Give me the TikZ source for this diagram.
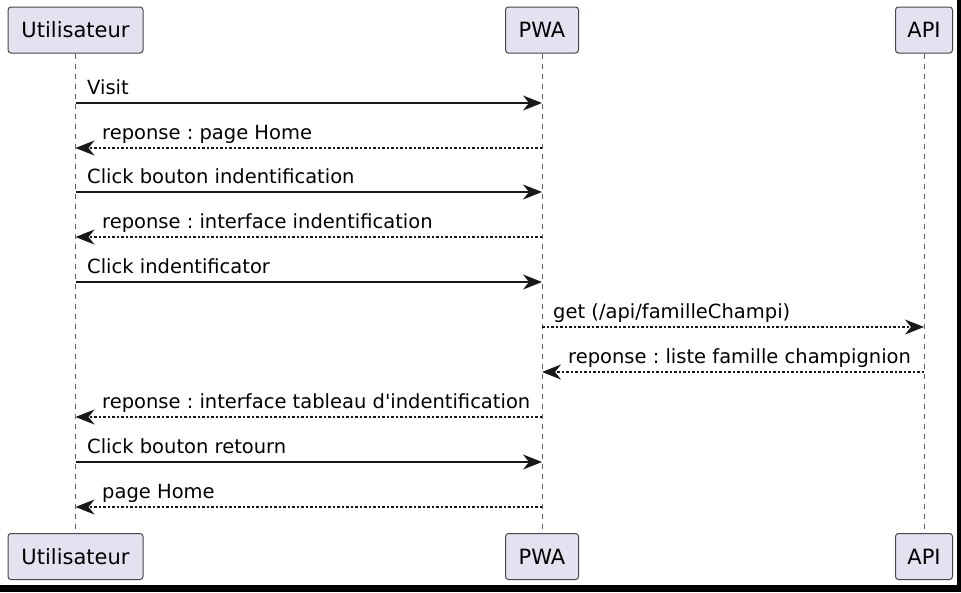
\documentclass[tikz,border=0pt]{standalone}
\usepackage{fontspec}
\setmainfont{DejaVu Sans}[Ligatures=TeXOff]
\usetikzlibrary{arrows.meta}
\definecolor{partfill}{HTML}{E2E2F0}
\definecolor{ink}{HTML}{181818}
\frenchspacing
\begin{document}
\begin{tikzpicture}[x=1pt,y=-1pt,
  part/.style={draw=ink!80, line width=1pt, fill=partfill, rounded corners=3pt, minimum height=46pt, inner sep=0pt, text=black, font=\fontsize{21}{25}\selectfont},
  life/.style={draw=ink!70, line width=1pt, dash pattern=on 5pt off 5pt},
  msg/.style={draw=ink, line width=1.5pt, -{Stealth[length=19pt,width=15pt,inset=6pt]}},
  rep/.style={msg, dash pattern=on 2.5pt off 2pt},
  lbl/.style={anchor=base west, inner sep=0pt, font=\fontsize{19.5}{23}\selectfont, text=black}]
\useasboundingbox (0,0) rectangle (961,592);
\fill[white] (0,0) rectangle (961,592);
\fill[black] (0,585) rectangle (961,592);
\fill[black] (957,0) rectangle (961,592);
% participants
\node[part, minimum width=135pt] (u1) at (75.5,30) {Utilisateur};
\node[part, minimum width=73pt] (p1) at (542,30) {PWA};
\node[part, minimum width=57pt] (a1) at (924,30) {API};
\node[part, minimum width=135pt] (u2) at (75.5,556.5) {Utilisateur};
\node[part, minimum width=73pt] (p2) at (542,556.5) {PWA};
\node[part, minimum width=57pt] (a2) at (924,556.5) {API};
% lifelines
\draw[life] (u1.south) -- (u2.north);
\draw[life] (p1.south) -- (p2.north);
\draw[life] (a1.south) -- (a2.north);
% message anchors
\foreach \i/\y in {1/103,2/148,3/192,4/237,5/282,6/327,7/372,8/417,9/462,10/507}{
  \coordinate (u\i) at (75.5,\y);
  \coordinate (p\i) at (542,\y);
  \coordinate (a\i) at (924,\y);
}
\draw[msg] (u1) -- (p1);
\node[lbl] (t1) at (87,94) {Visit};
\draw[rep] (p2) -- (u2);
\node[lbl] (t2) at (102,139) {reponse : page Home};
\draw[msg] (u3) -- (p3);
\node[lbl] (t3) at (87,183) {Click bouton indentification};
\draw[rep] (p4) -- (u4);
\node[lbl] (t4) at (102,228) {reponse : interface indentification};
\draw[msg] (u5) -- (p5);
\node[lbl] (t5) at (87,273) {Click indentificator};
\draw[rep] (p6) -- (a6);
\node[lbl] (t6) at (553,318) {get (/api/familleChampi)};
\draw[rep] (a7) -- (p7);
\node[lbl] (t7) at (568,363) {reponse : liste famille champignion};
\draw[rep] (p8) -- (u8);
\node[lbl] (t8) at (102,408) {reponse : interface tableau d'indentification};
\draw[msg] (u9) -- (p9);
\node[lbl] (t9) at (87,453) {Click bouton retourn};
\draw[rep] (p10) -- (u10);
\node[lbl] (t10) at (102,498) {page Home};
\end{tikzpicture}
\end{document}
